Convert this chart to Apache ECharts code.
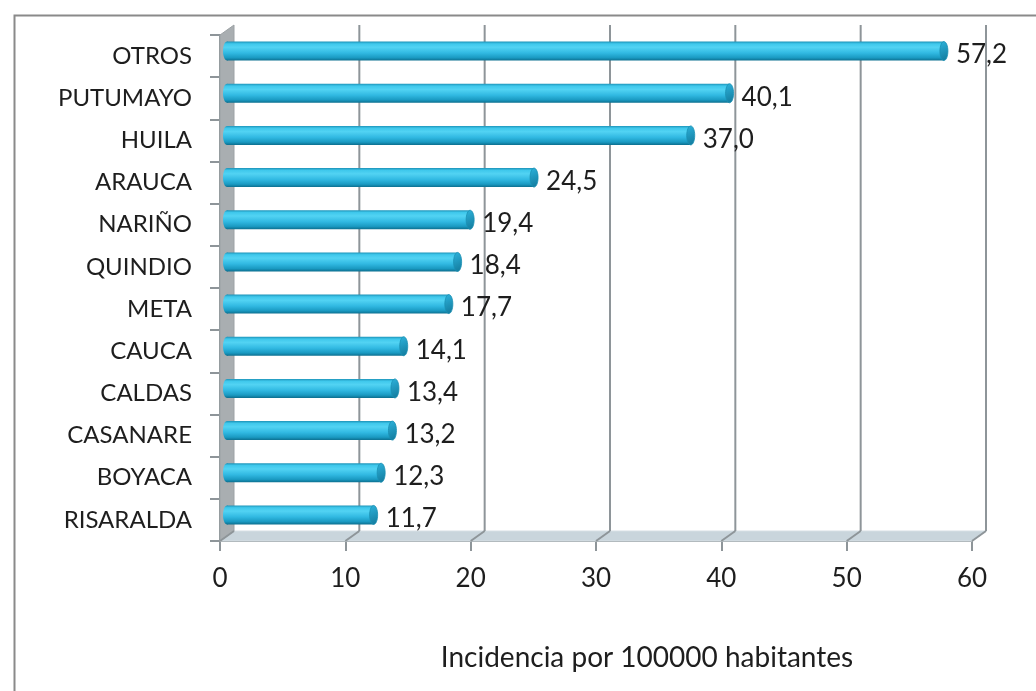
<!DOCTYPE html>
<html>
<head>
<meta charset="utf-8">
<script src="https://cdn.jsdelivr.net/npm/echarts@6/dist/echarts.min.js"></script>
<style>
  html, body { margin: 0; padding: 0; background: #ffffff; }
  #chart { width: 1036px; height: 691px; }
</style>
</head>
<body>
<div id="chart"></div>
<script>
// Departamentos, ordered top to bottom
const categories = ['OTROS', 'PUTUMAYO', 'HUILA', 'ARAUCA', 'NARIÑO', 'QUINDIO',
  'META', 'CAUCA', 'CALDAS', 'CASANARE', 'BOYACA', 'RISARALDA'];
// Incidencia por 100000 habitantes
const values = [57.2, 40.1, 37.0, 24.5, 19.4, 18.4, 17.7, 14.1, 13.4, 13.2, 12.3, 11.7];
// Value axis ticks
const xTicks = [0, 10, 20, 30, 40, 50, 60];
const axisTitle = 'Incidencia por 100000 habitantes';

const FONT = 'Lato';
const GRID_COLOR = '#8e9599';
const DEPTH_X = 14, DEPTH_Y = -10;   // depth of the 3D box (back plane shift)

const chart = echarts.init(document.getElementById('chart'), null, { renderer: 'canvas' });

const fmt = v => v.toFixed(1).replace('.', ',');

// Back wall gridlines, side wall and floor of the 3D box
function renderBox(params, api) {
  const n = categories.length;
  const band = api.size([0, 1])[1];
  const yTop = api.coord([0, 0])[1] - band / 2;
  const yBot = api.coord([0, n - 1])[1] + band / 2;
  const xMin = api.coord([xTicks[0], 0])[0];
  const xMax = api.coord([xTicks[xTicks.length - 1], 0])[0];
  const children = [];
  // floor
  children.push({
    type: 'polygon',
    shape: { points: [[xMin, yBot], [xMax, yBot], [xMax + DEPTH_X, yBot + DEPTH_Y], [xMin + DEPTH_X, yBot + DEPTH_Y]] },
    style: { fill: '#c9d5dc', stroke: '#d6dfe4', lineWidth: 1 }
  });
  // side wall
  children.push({
    type: 'polygon',
    shape: { points: [[xMin, yTop], [xMin + DEPTH_X, yTop + DEPTH_Y], [xMin + DEPTH_X, yBot + DEPTH_Y], [xMin, yBot]] },
    style: { fill: '#a9aeb1', stroke: '#9ca2a5', lineWidth: 1 }
  });
  // back gridlines and floor diagonals
  xTicks.forEach(t => {
    const x = api.coord([t, 0])[0];
    if (t !== xTicks[0]) {
      children.push({
        type: 'line',
        shape: { x1: x + DEPTH_X, y1: yTop + DEPTH_Y, x2: x + DEPTH_X, y2: yBot + DEPTH_Y },
        style: { stroke: GRID_COLOR, lineWidth: 2 }
      });
    }
    children.push({
      type: 'line',
      shape: { x1: x, y1: yBot, x2: x + DEPTH_X, y2: yBot + DEPTH_Y },
      style: { stroke: GRID_COLOR, lineWidth: 2 }
    });
  });
  return { type: 'group', children };
}

// Cylinder bars
const BAR_H = 19;
function renderBar(params, api) {
  const idx = api.value(0);
  const val = api.value(1);
  const p0 = api.coord([0, idx]);
  const p1 = api.coord([val, idx]);
  const x0 = p0[0] + DEPTH_X / 2;
  const x1 = p1[0] + DEPTH_X / 2;
  const cy = p0[1] + DEPTH_Y / 2;
  const capRx = 4;
  const body = new echarts.graphic.LinearGradient(0, 0, 0, 1, [
    { offset: 0, color: '#1d93b8' },
    { offset: 0.12, color: '#3fc8ec' },
    { offset: 0.3, color: '#52d3f3' },
    { offset: 0.6, color: '#31b9e2' },
    { offset: 0.85, color: '#1a9ac2' },
    { offset: 1, color: '#0c6f8f' }
  ]);
  const cap = new echarts.graphic.LinearGradient(0, 0, 1, 1, [
    { offset: 0, color: '#2eb3dc' },
    { offset: 1, color: '#11789a' }
  ]);
  return {
    type: 'group',
    children: [
      { type: 'ellipse', shape: { cx: x0, cy: cy, rx: capRx, ry: BAR_H / 2 }, style: { fill: body } },
      { type: 'rect', shape: { x: x0, y: cy - BAR_H / 2, width: Math.max(0, x1 - x0), height: BAR_H }, style: { fill: body } },
      { type: 'ellipse', shape: { cx: x1, cy: cy, rx: capRx, ry: BAR_H / 2 }, style: { fill: cap, stroke: '#1b8fb3', lineWidth: 0.8 } },
      {
        type: 'text',
        style: {
          text: fmt(val), x: x1 + capRx + 8, y: cy + 4,
          fill: '#1e1e1e', font: '26px ' + FONT,
          textAlign: 'left', textVerticalAlign: 'middle'
        }
      }
    ]
  };
}

const option = {
  backgroundColor: '#ffffff',
  animation: false,
  grid: { left: 220, right: 64, top: 35, bottom: 150, containLabel: false },
  xAxis: {
    type: 'value',
    min: 0, max: 60, interval: 10,
    axisLine: { show: true, lineStyle: { color: GRID_COLOR, width: 2 } },
    axisTick: { show: true, length: 10, lineStyle: { color: GRID_COLOR, width: 2 } },
    splitLine: { show: false },
    axisLabel: {
      margin: 25, color: '#1e1e1e', fontFamily: FONT, fontSize: 26,
      formatter: v => (xTicks.includes(v) ? String(v) : '')
    }
  },
  yAxis: {
    type: 'category',
    data: categories,
    inverse: true,
    axisLine: { show: true, lineStyle: { color: GRID_COLOR, width: 2 } },
    axisTick: { show: true, length: 10, lineStyle: { color: GRID_COLOR, width: 2 } },
    splitLine: { show: false },
    axisLabel: { margin: 28, color: '#1e1e1e', fontFamily: FONT, fontSize: 24, padding: [4, 0, 0, 0] }
  },
  graphic: [
    {
      type: 'rect', left: 12, top: 13, silent: true, z: -10,
      shape: { width: 1100, height: 760 },
      style: { fill: null, stroke: '#8a8a8a', lineWidth: 2 }
    },
    {
      type: 'text', x: 647, y: 658, silent: true,
      style: {
        text: axisTitle, fill: '#1e1e1e', font: '28px ' + FONT,
        textAlign: 'center', textVerticalAlign: 'middle'
      }
    }
  ],
  series: [
    {
      type: 'custom',
      name: 'box',
      renderItem: renderBox,
      data: [[0, 0]],
      encode: { x: 1, y: 0 },
      z: 1,
      silent: true
    },
    {
      type: 'custom',
      name: 'Incidencia',
      renderItem: renderBar,
      data: values.map((v, i) => [i, v]),
      encode: { x: 1, y: 0 },
      z: 3
    }
  ]
};

chart.setOption(option);
</script>
</body>
</html>
